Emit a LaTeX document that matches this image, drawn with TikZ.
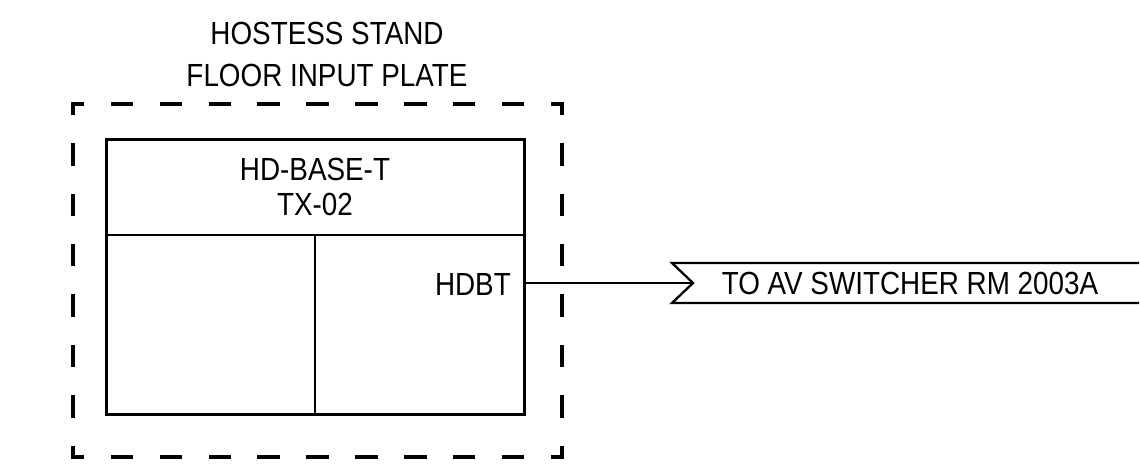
\documentclass[tikz,border=0pt]{standalone}
\usepackage{fontspec}
\setmainfont{Liberation Sans}[FakeStretch=0.87]
\usetikzlibrary{positioning}
\begin{document}
\begin{tikzpicture}
[
x = 1pt, y = 1pt,
box/.style = {draw, line width=3pt, inner sep=0pt},
divider/.style = {line width=2.6pt},
wire/.style = {line width=2.3pt},
caption/.style = {font=\fontsize{32}{#1}\selectfont, inner sep=0pt, align=center},
caption/.default = 35,
frame h/.style = {line width=3.4pt, line cap=rect, dash pattern=on 19pt off 29.9pt, dash phase=9.5pt},
frame v/.style = {line width=3.4pt, line cap=rect, dash pattern=on 19pt off 31.4pt, dash phase=9.5pt}
]
\useasboundingbox (0,0) rectangle (1140,467);
% floor plate outline
\coordinate (fnw) at (73,363);
\coordinate (fse) at (562,10);
\draw [frame h] (fnw) -- (fnw -| fse);
\draw [frame h] (fnw |- fse) -- (fse);
\draw [frame v] (fnw) -- (fnw |- fse);
\draw [frame v] (fnw -| fse) -- (fse);
\node [caption=42] (title) at (327,413) {HOSTESS STAND\\FLOOR INPUT PLATE};
% transmitter
\node [box, minimum width=418pt, minimum height=275pt] (plate) at (315,190.5) {};
\coordinate (split) at (315,232);
\draw [divider] (plate.west |- split) -- (plate.east |- split);
\draw [divider] (split) -- (split |- plate.south);
\node [caption] (model) at (315,280) {HD-BASE-T\\TX-02};
\node [caption, anchor=east] (port) at (511,183) {HDBT};
% destination flag
\coordinate (tip) at (693,184);
\draw [wire] (plate.east |- tip) -- (tip);
\draw [wire] (1139,204) -- ([shift={(-21,20)}]tip) -- (tip) -- ([shift={(-21,-20)}]tip) -- (1139,164);
\node [caption] (dest) at (910,184) {TO AV SWITCHER RM 2003A};
\end{tikzpicture}
\end{document}
